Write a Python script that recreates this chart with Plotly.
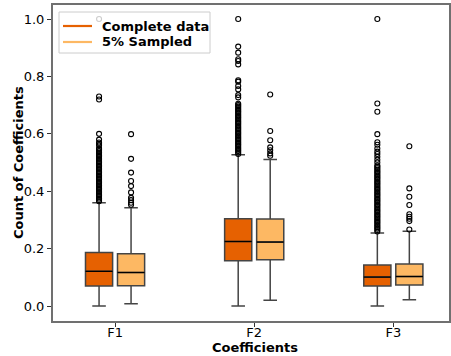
import plotly.graph_objects as go

categories = ["F1", "F2", "F3"]
series_names = ["Complete data", "5% Sampled"]
colors = ["#e66101", "#fdb863"]

# box statistics per category: [F1, F2, F3]
full_q1 = [0.070, 0.158, 0.070]
full_med = [0.121, 0.225, 0.101]
full_q3 = [0.187, 0.304, 0.143]
full_lo = [0.000, 0.000, 0.000]
full_hi = [0.360, 0.527, 0.255]

samp_q1 = [0.071, 0.161, 0.073]
samp_med = [0.117, 0.223, 0.103]
samp_q3 = [0.182, 0.303, 0.147]
samp_lo = [0.008, 0.020, 0.022]
samp_hi = [0.343, 0.511, 0.261]

# outliers
full_out = [
    [0.365, 0.37, 0.375, 0.38, 0.385, 0.39, 0.395, 0.40, 0.405, 0.41, 0.415, 0.42,
     0.425, 0.43, 0.435, 0.44, 0.445, 0.45, 0.455, 0.46, 0.465, 0.47, 0.475, 0.48,
     0.485, 0.49, 0.495, 0.50, 0.505, 0.51, 0.515, 0.52, 0.525, 0.53, 0.535, 0.54,
     0.545, 0.55, 0.56, 0.565, 0.57, 0.58, 0.60, 0.72, 0.73, 1.0],
    [0.53, 0.535, 0.54, 0.545, 0.55, 0.555, 0.56, 0.565, 0.57, 0.575, 0.58, 0.585,
     0.59, 0.595, 0.60, 0.605, 0.61, 0.615, 0.62, 0.625, 0.63, 0.635, 0.64, 0.645,
     0.65, 0.655, 0.66, 0.665, 0.67, 0.675, 0.68, 0.685, 0.69, 0.695, 0.70, 0.705,
     0.727, 0.735, 0.755, 0.767, 0.782, 0.787, 0.842, 0.854, 0.860, 0.883, 0.904, 1.0],
    [0.26, 0.265, 0.27, 0.275, 0.28, 0.285, 0.29, 0.295, 0.30, 0.305, 0.31, 0.315,
     0.32, 0.325, 0.33, 0.335, 0.34, 0.345, 0.35, 0.355, 0.36, 0.365, 0.37, 0.375,
     0.38, 0.385, 0.39, 0.395, 0.40, 0.405, 0.41, 0.415, 0.42, 0.425, 0.43, 0.435,
     0.44, 0.445, 0.45, 0.455, 0.46, 0.465, 0.47, 0.475, 0.48, 0.485, 0.49, 0.50,
     0.51, 0.52, 0.53, 0.538, 0.549, 0.562, 0.571, 0.599, 0.677, 0.706, 1.0],
]
samp_out = [
    [0.353, 0.360, 0.369, 0.377, 0.396, 0.418, 0.436, 0.465, 0.513, 0.599],
    [0.524, 0.532, 0.543, 0.553, 0.578, 0.610, 0.737],
    [0.267, 0.296, 0.304, 0.311, 0.320, 0.352, 0.381, 0.410, 0.557],
]

offsets = [-0.115, 0.115]
box_width = 0.195
edge = "#444444"

W, H = 451, 356
ML, MR, MT, MB = 53, 2, 5, 35
PW, PH = W - ML - MR, H - MT - MB


def px_x(p):
    return (p - ML) / PW


def px_y(p):
    return (H - MB - p) / PH


fig = go.Figure()
stats = [
    (full_q1, full_med, full_q3, full_lo, full_hi, full_out),
    (samp_q1, samp_med, samp_q3, samp_lo, samp_hi, samp_out),
]
for s, (q1, med, q3, lo, hi, outs) in enumerate(stats):
    xs = [i + 1 + offsets[s] for i in range(len(categories))]
    fig.add_trace(go.Box(
        x=xs, q1=q1, median=med, q3=q3, lowerfence=lo, upperfence=hi,
        width=box_width, whiskerwidth=0.5, boxpoints=False,
        fillcolor=colors[s], line=dict(color=edge, width=1.5),
        showlegend=False, hoverinfo="skip",
    ))
    for i in range(len(categories)):
        fig.add_trace(go.Scatter(
            x=[xs[i] - box_width / 2, xs[i] + box_width / 2], y=[med[i], med[i]],
            mode="lines", line=dict(color="black", width=1.3),
            showlegend=False, hoverinfo="skip",
        ))
    for i in range(len(categories)):
        fig.add_trace(go.Scatter(
            x=[xs[i]] * len(outs[i]), y=outs[i], mode="markers",
            marker=dict(symbol="circle-open", size=5, color="black",
                        line=dict(width=1.1, color="black")),
            showlegend=False, hoverinfo="skip",
        ))

font_family = "DejaVu Sans"

# legend (drawn manually to match the compact matplotlib legend)
shapes = [dict(type="rect", xref="paper", yref="paper", layer="above",
               x0=px_x(59), x1=px_x(210), y0=px_y(53), y1=px_y(12),
               fillcolor="rgba(255,255,255,0.8)",
               line=dict(color="#cccccc", width=1))]
annotations = []
leg_rows = [26, 42]
for s in range(2):
    shapes.append(dict(type="line", xref="paper", yref="paper", layer="above",
                       x0=px_x(63), x1=px_x(92), y0=px_y(leg_rows[s]), y1=px_y(leg_rows[s]),
                       line=dict(color=colors[s], width=2.2)))
    annotations.append(dict(text="<b>%s</b>" % series_names[s], xref="paper", yref="paper",
                            x=px_x(100), y=px_y(leg_rows[s]), xanchor="left", yanchor="middle",
                            showarrow=False,
                            font=dict(family=font_family, size=13, color="black")))

annotations += [
    dict(text="<b>Coefficients</b>", xref="paper", yref="paper",
         x=0.51, y=0, yshift=-26, xanchor="center", yanchor="middle",
         showarrow=False, font=dict(family=font_family, size=13, color="black")),
    dict(text="<b>Count of Coefficients</b>", xref="paper", yref="paper",
         x=0, xshift=-35, y=0.5, xanchor="center", yanchor="middle",
         textangle=-90, showarrow=False,
         font=dict(family=font_family, size=13, color="black")),
]

axis_common = dict(
    showline=True, linecolor="#707070", linewidth=2, mirror=True,
    ticks="outside", ticklen=4, tickcolor="#333333", tickwidth=1,
    showgrid=False, zeroline=False, automargin=False,
    tickfont=dict(family=font_family, size=13, color="black"),
)
fig.update_layout(
    width=W, height=H,
    margin=dict(l=ML, r=MR, t=MT, b=MB),
    paper_bgcolor="white", plot_bgcolor="white",
    font=dict(family=font_family, size=13, color="black"),
    showlegend=False,
    xaxis=dict(
        range=[0.554, 3.40], tickvals=[1, 2, 3], ticktext=categories,
        ticklabelstandoff=-6,
        **axis_common,
    ),
    yaxis=dict(
        range=[-0.052, 1.049], tickvals=[0, 0.2, 0.4, 0.6, 0.8, 1.0],
        tickformat=".1f",
        **axis_common,
    ),
    shapes=shapes,
    annotations=annotations,
)

fig.write_html(
    "out.html",
    config={"displayModeBar": False},
    post_script="document.body.style.margin='0px';document.body.style.overflow='hidden';",
)
